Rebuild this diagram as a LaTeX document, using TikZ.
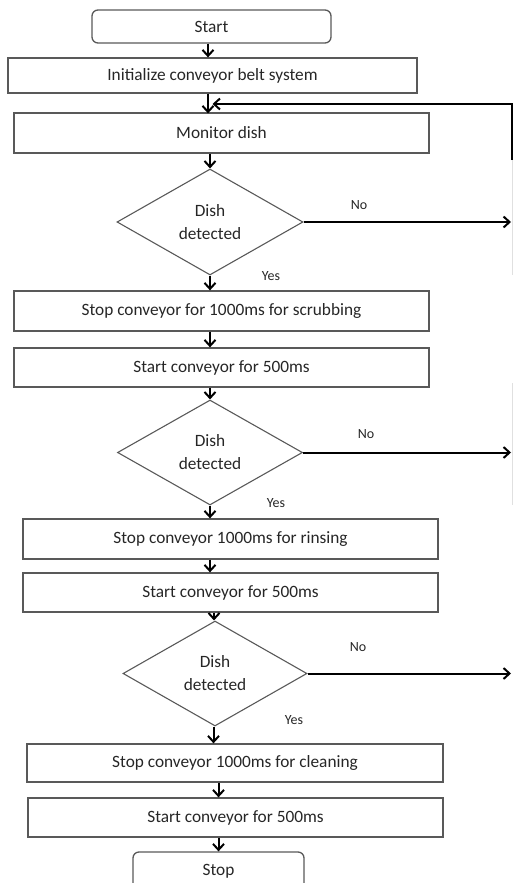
\documentclass[tikz,border=0pt]{standalone}
\usepackage{fontspec}
\setmainfont{Carlito}
\usetikzlibrary{shapes.geometric,arrows.meta}
\begin{document}
\begin{tikzpicture}[x=1pt,y=-1pt,
  box/.style={draw=black!65,line width=1.3pt,rectangle,inner sep=0pt,text=black!85,
    font=\fontsize{17.3}{21}\selectfont},
  term/.style={box,rounded corners=6pt},
  dec/.style={draw=black!65,line width=1.1pt,diamond,inner sep=0pt,align=center,text=black!85,
    font=\fontsize{17.3}{23}\selectfont},
  arr/.style={draw=black,line width=2pt,-{Straight Barb[length=6pt,width=11pt,line width=2pt]}},
  faint/.style={draw=black!12,line width=0.8pt},
  lbl/.style={text=black!85,font=\fontsize{14}{16}\selectfont,inner sep=0pt}
]
\useasboundingbox (0,0) rectangle (513,883);
\clip (0,0) rectangle (513,883);

\node[term,minimum width=239pt,minimum height=33pt] (start) at (211.5,26.5) {Start};
\node[box,minimum width=409pt,minimum height=35pt] (init) at (212.5,75.5) {Initialize conveyor belt system};
\node[box,minimum width=415pt,minimum height=40pt] (mon) at (221.5,133) {Monitor dish};
\node[dec,minimum width=186pt,minimum height=106pt] (d1) at (210,222) {Dish\\detected};
\node[box,minimum width=415pt,minimum height=40pt] (scrub) at (221.5,311) {Stop conveyor for 1000ms for scrubbing};
\node[box,minimum width=415pt,minimum height=39pt] (go1) at (221.5,367.5) {Start conveyor for 500ms};
\node[dec,minimum width=185pt,minimum height=105pt] (d2) at (210,452.5) {Dish\\detected};
\node[box,minimum width=415pt,minimum height=40pt] (rinse) at (230.5,539) {Stop conveyor 1000ms for rinsing};
\node[box,minimum width=415pt,minimum height=39pt] (go2) at (230.5,592.5) {Start conveyor for 500ms};
\node[dec,minimum width=184pt,minimum height=105pt] (d3) at (215,673.5) {Dish\\detected};
\node[box,minimum width=416pt,minimum height=38pt] (clean) at (235,763) {Stop conveyor 1000ms for cleaning};
\node[box,minimum width=415pt,minimum height=39pt] (go3) at (235.5,817.5) {Start conveyor for 500ms};
\node[term,minimum width=171pt,minimum height=38pt] (stop) at (218.5,871) {Stop};

\node[lbl] (no1) at (359,205) {No};
\node[lbl] (yes1) at (271,276) {Yes};
\node[lbl] (no2) at (366,434) {No};
\node[lbl] (yes2) at (276,503) {Yes};
\node[lbl] (no3) at (358,647) {No};
\node[lbl] (yes3) at (294,720) {Yes};

% vertical flow
\draw[arr] ([xshift=-3.5pt]start.south) -- ([xshift=-3.5pt]start.south |- init.north);
\draw[arr] ([xshift=-4.5pt]init.south) -- ([xshift=-4.5pt,yshift=-1pt]init.south |- mon.north);
\draw[arr] (mon.south -| d1.north) -- (d1.north);
\draw[arr] (d1.south) -- (d1.south |- scrub.north);
\draw[arr] (scrub.south -| d1.south) -- (d1.south |- go1.north);
\draw[arr] (go1.south -| d2.north) -- (d2.north);
\draw[arr] (d2.south) -- (d2.south |- rinse.north);
\draw[arr] (rinse.south -| d2.south) -- (d2.south |- go2.north);
\draw[arr] ([xshift=-1pt]go2.south -| d3.north) -- ([xshift=-1pt]d3.north);
\draw[arr] ([xshift=-1.5pt]d3.south) -- ([xshift=-1.5pt]d3.south |- clean.north);
\draw[arr] (clean.south -| stop.north) -- (stop.north |- go3.north);
\draw[arr] (go3.south -| stop.north) -- (stop.north);

% "No" branches
\coordinate (rx) at (511,0);
\draw[arr] (d1.east) -- (d1.east -| rx);
\draw[arr] (d2.east) -- (d2.east -| rx);
\draw[arr] (d3.east) -- (d3.east -| rx);

% return line
\coordinate (r0) at (512,160);
\coordinate (r1) at (512,104);
\draw[arr] (r0) -- (r1) -- (r1 -| init.south);
\draw[faint] (512,160) -- (512,275);
\draw[faint] (512,383) -- (512,505);
\end{tikzpicture}
\end{document}
